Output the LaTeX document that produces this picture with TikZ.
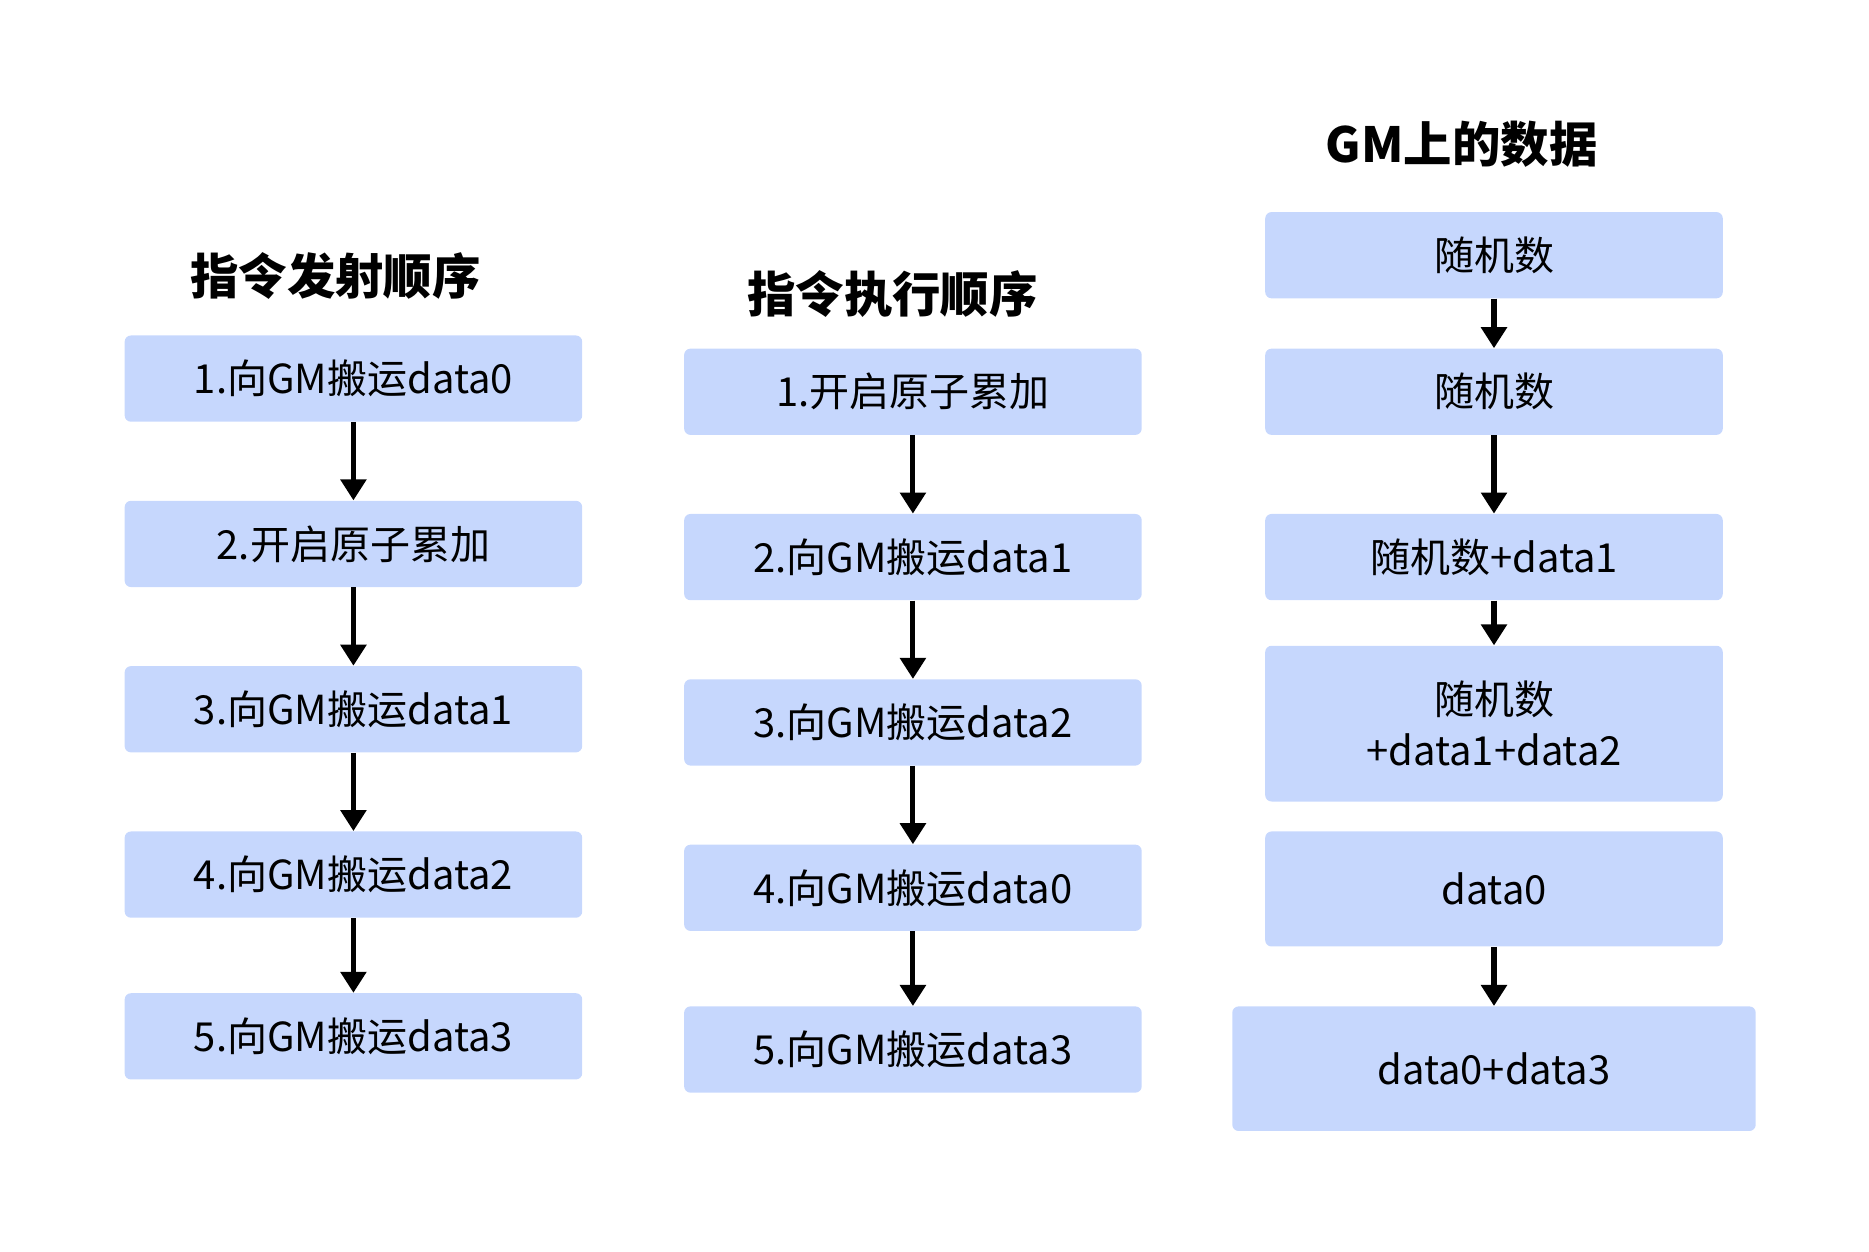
\documentclass[tikz,border=0pt]{standalone}
\usepackage{fontspec}
\setmainfont{Noto Sans CJK SC}
\usetikzlibrary{arrows.meta,positioning}
\definecolor{BoxBlue}{HTML}{C6D7FD}
\tikzset{
  box/.style={fill=BoxBlue,rounded corners=3pt,minimum width=7.64cm,minimum height=1.44cm,
    inner sep=0pt,align=center,font=\fontsize{19}{24}\selectfont},
  title/.style={font=\fontsize{23}{28}\selectfont\bfseries},
  flow/.style={-{Triangle[length=10pt,width=12pt]},line width=2.4pt}
}
\begin{document}
\begin{tikzpicture}[x=0.02cm,y=-0.02cm]
  \useasboundingbox (0,0) rectangle (1560,1045);
  % issue order
  \node[title] (t1) at (280,230) {指令发射顺序};
  \node[box] (a1) at (295,316) {1.向GM搬运data0};
  \node[box] (a2) at (295,454) {2.开启原子累加};
  \node[box] (a3) at (295,592) {3.向GM搬运data1};
  \node[box] (a4) at (295,730) {4.向GM搬运data2};
  \node[box] (a5) at (295,865) {5.向GM搬运data3};
  \foreach \s[count=\d from 2] in {1,2,3,4}{
    \draw[flow] (a\s) -- (a\d);
  }

  % execution order
  \node[title] (t2) at (745,245) {指令执行顺序};
  \node[box] (b1) at (762,327) {1.开启原子累加};
  \node[box] (b2) at (762,465) {2.向GM搬运data1};
  \node[box] (b3) at (762,603) {3.向GM搬运data2};
  \node[box] (b4) at (762,741) {4.向GM搬运data0};
  \node[box] (b5) at (762,876) {5.向GM搬运data3};
  \foreach \s[count=\d from 2] in {1,2,3,4}{
    \draw[flow] (b\s) -- (b\d);
  }

  % data on GM
  \node[title] (t3) at (1220,120) {GM上的数据};
  \node[box] (c1) at (1247,213) {随机数};
  \node[box] (c2) at (1247,327) {随机数};
  \node[box] (c3) at (1247,465) {随机数+data1};
  \node[box,minimum height=2.6cm] (c4) at (1247,604) {随机数\\+data1+data2};
  \node[box,minimum height=1.92cm] (c5) at (1247,742) {data0};
  \node[box,minimum width=8.74cm,minimum height=2.08cm] (c6) at (1247,892) {data0+data3};
  \foreach \s/\d in {1/2,2/3,3/4,5/6}{
    \draw[flow] (c\s) -- (c\d);
  }
\end{tikzpicture}
\end{document}
